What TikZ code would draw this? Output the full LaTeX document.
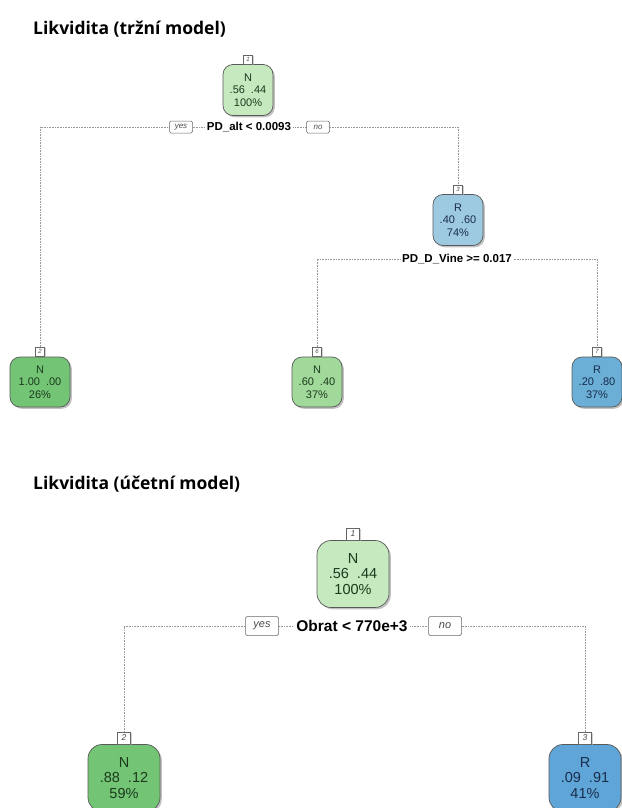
\documentclass[tikz,border=0pt]{standalone}
\usepackage{fontspec}
\setmainfont{Liberation Sans}
\newfontfamily\ttlfont{Open Sans}
\usetikzlibrary{shadows,backgrounds}
\definecolor{gA}{RGB}{199,233,192}
\definecolor{gB}{RGB}{116,196,118}
\definecolor{gC}{RGB}{161,217,155}
\definecolor{bA}{RGB}{158,202,225}
\definecolor{bB}{RGB}{107,174,214}
\definecolor{bC}{RGB}{96,165,215}
\definecolor{txg}{RGB}{28,58,28}
\definecolor{txb}{RGB}{25,45,75}
\begin{document}
\begin{tikzpicture}[x=1pt,y=-1pt,
  leaf/.style={draw=black!65, line width=0.7pt, align=center, inner sep=0pt,
    drop shadow={shadow xshift=1.8pt, shadow yshift=-1.8pt, fill=black!40, opacity=0.6}},
  smallleaf/.style={leaf, minimum width=50pt, minimum height=51pt, rounded corners=10pt,
    font=\fontsize{11}{12.5}\selectfont},
  bigleaf/.style={leaf, minimum width=72pt, minimum height=67pt, rounded corners=14pt,
    font=\fontsize{14.5}{15.5}\selectfont},
  idx/.style={draw=black!60, fill=white, inner sep=0pt, line width=0.5pt, text=black!70,
    drop shadow={shadow xshift=1pt, shadow yshift=-1pt, fill=black!30, opacity=0.6}},
  idxs/.style={idx, minimum width=9pt, minimum height=9pt, font=\itshape\fontsize{6}{6}\selectfont},
  idxb/.style={idx, minimum width=13pt, minimum height=12pt, font=\itshape\fontsize{8.5}{8.5}\selectfont},
  yn/.style={draw=black!60, fill=white, rounded corners=1.5pt, line width=0.5pt, text=black!70, inner sep=0pt},
  yns/.style={yn, minimum width=23pt, minimum height=12pt, font=\itshape\fontsize{8}{8}\selectfont},
  ynb/.style={yn, minimum width=33pt, minimum height=19pt, font=\itshape\fontsize{11}{11}\selectfont},
  splits/.style={fill=white, inner sep=1.5pt, font=\bfseries\fontsize{11.5}{12}\selectfont},
  splitb/.style={fill=white, inner sep=2pt, font=\bfseries\fontsize{15.5}{16}\selectfont},
  conn/.style={draw=black!40, line width=0.6pt, dash pattern=on 0.8pt off 0.8pt},
  ttl/.style={anchor=west, inner sep=0pt, font=\ttlfont\bfseries\fontsize{17.5}{19}\selectfont}
]
\useasboundingbox (0,0) rectangle (621,808);

% ---------- top tree ----------
\node[ttl] (t1) at (33,29) {Likvidita (tržní model)};

\node[smallleaf, fill=gA, text=txg] (n1) at (248,90) {N\\.56\hspace{6pt}.44\\100\%};
\node[idxs, anchor=south] (l1) at (n1.north) {1};

\node[splits] (s1) at (249,127) {PD\_alt < 0.0093};
\node[yns] (y1) at (181,127) {yes};
\node[yns] (o1) at (318,127) {no};

\node[smallleaf, fill=bA, text=txb] (n3) at (458,220) {R\\.40\hspace{6pt}.60\\74\%};
\node[idxs, anchor=south] (l3) at (n3.north) {3};

\node[splits] (s2) at (457,259) {PD\_D\_Vine >= 0.017};

\node[smallleaf, fill=gB, text=txg, minimum width=60pt, minimum height=50pt] (n2) at (40,382) {N\\1.00\hspace{6pt}.00\\26\%};
\node[idxs, anchor=south] (l2) at (n2.north) {2};

\node[smallleaf, fill=gC, text=txg, minimum height=50pt] (n6) at (317,382) {N\\.60\hspace{6pt}.40\\37\%};
\node[idxs, anchor=south] (l6) at (n6.north) {6};

\node[smallleaf, fill=bB, text=txb, minimum height=50pt] (n7) at (597,382) {R\\.20\hspace{6pt}.80\\37\%};
\node[idxs, anchor=south] (l7) at (n7.north) {7};

% ---------- bottom tree ----------
\node[ttl] (t2) at (33,484) {Likvidita (účetní model)};

\node[bigleaf, fill=gA, text=txg] (m1) at (353,574) {N\\.56\hspace{8pt}.44\\100\%};
\node[idxb, anchor=south] (k1) at (m1.north) {1};

\node[splitb] (s3) at (352,626) {Obrat < 770e+3};
\node[ynb] (y3) at (262,626) {yes};
\node[ynb] (o3) at (445,626) {no};

\node[bigleaf, fill=gB, text=txg] (m2) at (124,778) {N\\.88\hspace{8pt}.12\\59\%};
\node[idxb, anchor=south] (k2) at (m2.north) {2};

\node[bigleaf, fill=bC, text=txb] (m3) at (585,778) {R\\.09\hspace{8pt}.91\\41\%};
\node[idxb, anchor=south] (k3) at (m3.north) {3};

% ---------- connectors ----------
\begin{scope}[on background layer]
\fill[white] (0,0) rectangle (621,808);
\draw[conn] (l2.north) |- (s1.center) -| (l3.north);
\draw[conn] (l6.north) |- (s2.center) -| (l7.north);
\draw[conn] (k2.north) |- (s3.center) -| (k3.north);
\end{scope}
\end{tikzpicture}
\end{document}
